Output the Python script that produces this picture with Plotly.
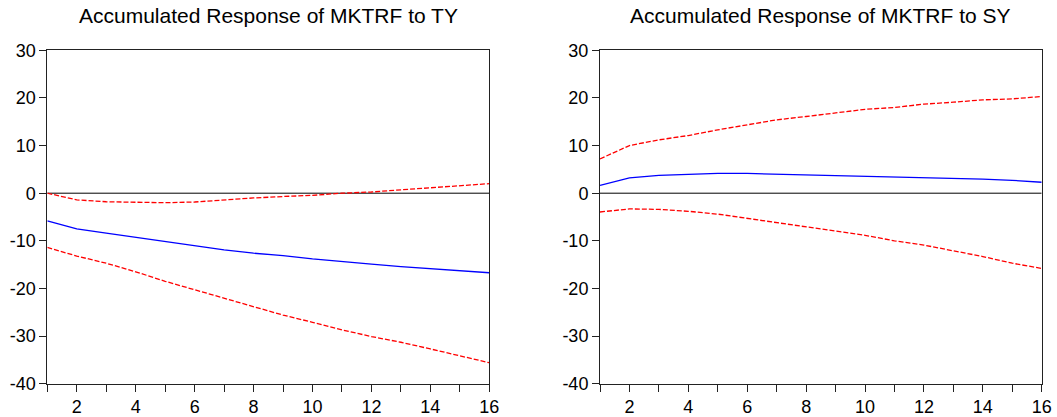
import plotly.graph_objects as go

periods = list(range(1, 17))

# Left panel: Accumulated Response of MKTRF to TY
ty_resp = [-5.8, -7.5, -8.4, -9.3, -10.1, -11.0, -11.9, -12.6, -13.1, -13.8, -14.4, -14.9, -15.4, -15.8, -16.2, -16.7]
ty_upper = [0.0, -1.4, -1.8, -1.9, -2.0, -1.85, -1.4, -1.0, -0.7, -0.45, 0.0, 0.25, 0.7, 1.1, 1.6, 2.0]
ty_lower = [-11.4, -13.2, -14.7, -16.5, -18.5, -20.3, -22.0, -23.8, -25.6, -27.1, -28.7, -30.1, -31.3, -32.7, -34.2, -35.6]

# Right panel: Accumulated Response of MKTRF to SY
sy_resp = [1.65, 3.2, 3.75, 4.0, 4.15, 4.15, 4.0, 3.9, 3.75, 3.7, 3.55, 3.35, 3.1, 2.95, 2.7, 2.3]
sy_upper = [7.2, 10.0, 11.2, 12.1, 13.3, 14.3, 15.4, 16.1, 16.9, 17.6, 18.0, 18.7, 19.1, 19.6, 19.8, 20.3]
sy_lower = [-3.95, -3.3, -3.4, -3.8, -4.4, -5.3, -6.1, -7.0, -7.9, -8.85, -10.0, -10.9, -12.1, -13.3, -14.7, -15.8]

titles = ["Accumulated Response of MKTRF to TY", "Accumulated Response of MKTRF to SY"]
y_ticks = [-40, -30, -20, -10, 0, 10, 20, 30]
y_ticktext = ["-40", "-30", "-20", "-10", "0", "10", "20", "30"]
x_tickvals = periods
x_ticktext = [str(p) if p % 2 == 0 else "" for p in periods]

W, H = 1057, 417
fig = go.Figure()

panels = [
    (ty_resp, ty_upper, ty_lower, "x", "y"),
    (sy_resp, sy_upper, sy_lower, "x2", "y2"),
]
for resp, up, lo, xa, ya in panels:
    # zero line
    fig.add_trace(go.Scatter(x=[1, 16], y=[0, 0], mode="lines",
                             line=dict(color="black", width=1),
                             xaxis=xa, yaxis=ya, showlegend=False, hoverinfo="skip"))
    fig.add_trace(go.Scatter(x=periods, y=up, mode="lines",
                             line=dict(color="#ff0000", width=1.3, dash="5px,2px"),
                             xaxis=xa, yaxis=ya, showlegend=False))
    fig.add_trace(go.Scatter(x=periods, y=lo, mode="lines",
                             line=dict(color="#ff0000", width=1.3, dash="5px,2px"),
                             xaxis=xa, yaxis=ya, showlegend=False))
    fig.add_trace(go.Scatter(x=periods, y=resp, mode="lines",
                             line=dict(color="#0000ff", width=1.3),
                             xaxis=xa, yaxis=ya, showlegend=False))

xdoms = [[47.3 / W, 489.3 / W], [600.0 / W, 1041.7 / W]]
ydom = [(H - 383.7) / H, (H - 50.3) / H]

font = dict(family="Liberation Sans, Arial, sans-serif", size=18, color="black")

axis_common = dict(showgrid=False, zeroline=False, showline=True, linecolor="#222222",
                   linewidth=1, mirror=True, ticks="outside", ticklen=7,
                   tickcolor="#222222", tickfont=font, automargin=False)

layout = dict(template="none", width=W, height=H, margin=dict(l=0, r=0, t=0, b=0, pad=0),
              autosize=False,
              paper_bgcolor="white", plot_bgcolor="white", font=font,
              showlegend=False)
for i, name in enumerate(["", "2"]):
    layout["xaxis" + name] = dict(axis_common, domain=xdoms[i], range=[1, 16],
                                  tickvals=x_tickvals, ticktext=x_ticktext,
                                  anchor="y" + name)
    layout["yaxis" + name] = dict(axis_common, domain=ydom, range=[-40, 30],
                                  tickvals=y_ticks, ticktext=y_ticktext,
                                  anchor="x" + name)
fig.update_layout(**layout)

for i, t in enumerate(titles):
    fig.add_annotation(text=t, x=(xdoms[i][0] + xdoms[i][1]) / 2, y=1 - 16 / H,
                       xref="paper", yref="paper", xanchor="center", yanchor="middle",
                       showarrow=False,
                       font=dict(family="Liberation Sans, Arial, sans-serif", size=21, color="black"))

fig.write_html("out.html")
